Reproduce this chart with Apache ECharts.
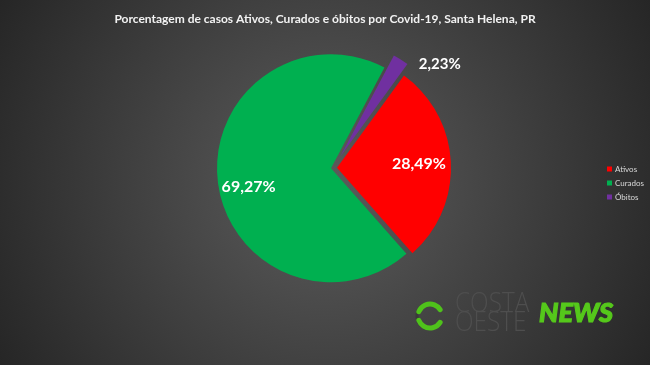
<!DOCTYPE html>
<html>
<head>
<meta charset="utf-8">
<script src="https://cdn.jsdelivr.net/npm/echarts@6/dist/echarts.min.js"></script>
<style>html,body{margin:0;padding:0;background:#333;}#c{width:650px;height:365px;}</style>
</head>
<body>
<div id="c"></div>
<script>
const categories = ['Ativos', 'Curados', 'Óbitos'];
const values = [28.49, 69.27, 2.23];
const colors = ['#ff0000', '#00b050', '#7030a0'];
const titleText = 'Porcentagem de casos Ativos, Curados e óbitos por Covid-19, Santa Helena, PR';

const FONT = 'Lato';
const CENTER = [333, 168];
const R = 114;
const fmt = v => v.toFixed(2).replace('.', ',') + '%';

function sliceSeries(idx, offset, labelOpt) {
  return {
    type: 'pie',
    center: CENTER,
    radius: [0, R],
    startAngle: 54,
    clockwise: true,
    silent: true,
    animation: false,
    avoidLabelOverlap: false,
    selectedMode: 'multiple',
    selectedOffset: offset,
    emphasis: { disabled: true },
    select: { itemStyle: { borderWidth: 0 } },
    labelLine: { show: false },
    label: { show: false },
    data: categories.map((name, i) => ({
      name: name,
      value: values[i],
      selected: i === idx,
      itemStyle: { color: i === idx ? colors[i] : 'rgba(0,0,0,0)', borderWidth: 0 },
      label: (i === idx && labelOpt) ? labelOpt : { show: false }
    }))
  };
}

const series = [
  sliceSeries(0, 4),
  sliceSeries(1, 2),
  sliceSeries(2, 14, {
    show: true, position: 'outside', formatter: p => fmt(p.value),
    color: '#ffffff', fontFamily: FONT, fontWeight: 'bold', fontSize: 15
  }),
  {
    type: 'pie',
    center: CENTER,
    radius: [56, R],
    startAngle: 54,
    clockwise: true,
    silent: true,
    animation: false,
    avoidLabelOverlap: false,
    emphasis: { disabled: true },
    labelLine: { show: false },
    label: {
      show: true, position: 'inside', formatter: p => fmt(p.value),
      color: '#ffffff', fontFamily: FONT, fontWeight: 'bold', fontSize: 16
    },
    labelLayout: p => (p.dataIndex === 1 ? { dx: 3, dy: 9 } : { dx: -2, dy: 0 }),
    data: categories.map((name, i) => ({
      name: name, value: values[i],
      itemStyle: { color: 'rgba(0,0,0,0)' },
      label: { show: i < 2 }
    }))
  }
];
series[2].labelLine = { show: false, length: 2, length2: 12 };
series[2].labelLayout = { dx: 0, dy: 6 };

const chart = echarts.init(document.getElementById('c'), null, { renderer: 'canvas' });
chart.setOption({
  animation: false,
  backgroundColor: {
    type: 'radial', x: 0.5, y: 0.5, r: 1.02,
    colorStops: [
      { offset: 0, color: '#5c5c5c' },
      { offset: 1, color: '#262626' }
    ]
  },
  title: {
    text: titleText,
    left: 'center', top: 8,
    textStyle: { color: '#f2f2f2', fontFamily: FONT, fontWeight: 'bold', fontSize: 12 }
  },
  legend: {
    orient: 'vertical',
    left: 602, top: 160,
    itemWidth: 5, itemHeight: 5, itemGap: 6,
    icon: 'rect',
    selectedMode: false,
    textStyle: { color: '#d9d9d9', fontFamily: FONT, fontSize: 8, padding: [0, 0, 0, -2] },
    data: categories.map((name, i) => ({ name: name, itemStyle: { color: colors[i] } }))
  },
  graphic: [
    { type: 'arc', silent: true, shape: { cx: 430, cy: 316, r: 13, startAngle: Math.PI * 0.62, endAngle: Math.PI * 1.38 },
      style: { stroke: '#3a3a3a', lineWidth: 3, fill: null } },
    { type: 'arc', silent: true, shape: { cx: 430, cy: 316, r: 12, startAngle: Math.PI * 1.12, endAngle: Math.PI * 1.82 },
      style: { stroke: '#4fc21b', lineWidth: 5, fill: null, lineCap: 'round' } },
    { type: 'arc', silent: true, shape: { cx: 430, cy: 316, r: 12, startAngle: Math.PI * 0.18, endAngle: Math.PI * 0.88 },
      style: { stroke: '#4fc21b', lineWidth: 5, fill: null, lineCap: 'round' } },
    { type: 'text', silent: true, x: 455, y: 295, scaleX: 0.9,
      style: { text: 'COSTA\nOESTE', fill: '#4e4e4e', font: '300 27px "Open Sans"', lineHeight: 19 } },
    { type: 'text', silent: true, x: 539, y: 300,
      style: { text: 'NEWS', fill: '#55c81b', stroke: '#55c81b', lineWidth: 1.2, font: 'italic 900 27px Lato' } }
  ],
  series: series
});
</script>
</body>
</html>
